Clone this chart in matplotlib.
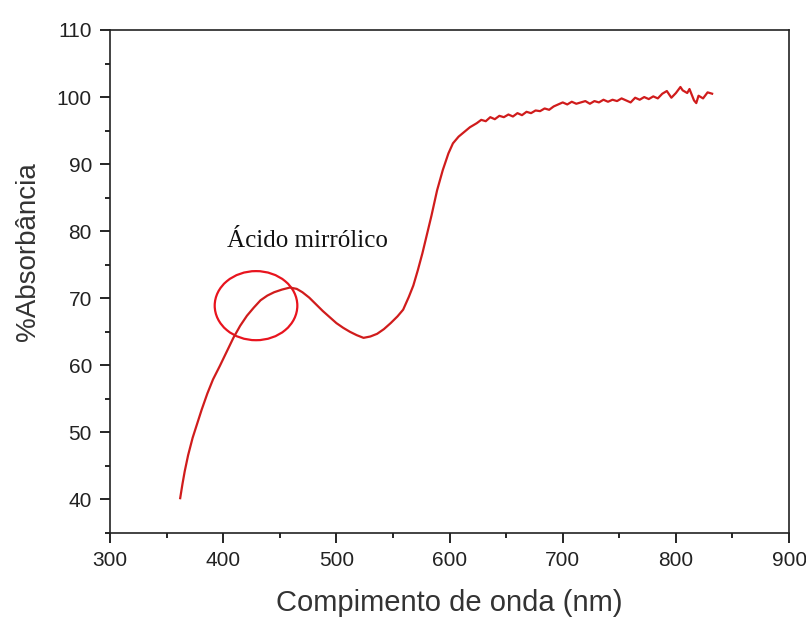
import matplotlib
matplotlib.use('Agg')
import matplotlib.pyplot as plt
from matplotlib.patches import Ellipse
from matplotlib.ticker import MultipleLocator

# ── data ──────────────────────────────────────────────────────
wavelength = [362, 364, 366, 369, 373, 377, 381, 386, 391, 397, 403, 409, 415,
              421, 427, 433, 439, 445, 452, 459, 465, 470, 476, 482, 488, 494,
              500, 506, 512, 518, 524, 530, 536, 542, 548, 554, 559, 564, 568,
              572, 576, 580, 584, 589, 594, 599, 603, 608, 613, 618, 624,
              628, 632, 636, 640, 644, 648, 652, 656, 660, 664, 668, 672, 676,
              680, 684, 688, 692, 696, 700, 704, 708, 712, 716, 720, 724, 728,
              732, 736, 740, 744, 748, 752, 756, 760, 764, 768, 772, 776, 780,
              784, 788, 792, 796, 800, 804, 806, 810, 812, 816, 818, 820, 824,
              828, 832]
absorb = [40.2, 42.3, 44.2, 46.6, 49.2, 51.3, 53.4, 55.8, 57.9, 59.9, 62.0,
          64.1, 65.9, 67.4, 68.6, 69.7, 70.4, 70.9, 71.3, 71.6, 71.4, 70.9,
          70.1, 69.1, 68.1, 67.2, 66.3, 65.6, 65.0, 64.5, 64.1, 64.3, 64.7,
          65.4, 66.3, 67.3, 68.3, 70.2, 71.9, 74.2, 76.7, 79.5, 82.3, 86.1,
          89.1, 91.6, 93.1, 94.1, 94.8, 95.5, 96.1,
          96.6, 96.4, 97.0, 96.7, 97.2, 97.0, 97.4, 97.1, 97.6, 97.3, 97.8,
          97.6, 98.0, 97.9, 98.3, 98.1, 98.6, 98.9, 99.2, 98.9, 99.3, 99.0,
          99.2, 99.4, 99.0, 99.4, 99.2, 99.6, 99.3, 99.6, 99.4, 99.8, 99.5,
          99.2, 99.9, 99.6, 100.0, 99.7, 100.1, 99.8, 100.5, 100.9, 99.9,
          100.6, 101.5, 101.0, 100.6, 101.2, 99.5, 99.1, 100.2, 99.8, 100.7,
          100.5]

label_text = "Ácido mirrólico"

fig = plt.figure(figsize=(8.06, 6.17), dpi=100)
ax = fig.add_axes([0.1365, 0.1361, 0.8425, 0.8153])

ax.plot(wavelength, absorb, color='#d01c1c', lw=1.6)

# circle marking the shoulder
ax.add_patch(Ellipse((429, 68.9), 73, 10.3, fill=False, ec='#e8141e', lw=1.6))
ax.text(474, 78.6, label_text, ha='center', va='center', fontsize=18,
        family='Liberation Serif', color='#111111')

ax.set_xlim(300, 900)
ax.set_ylim(35, 110)
ax.xaxis.set_major_locator(MultipleLocator(100))
ax.xaxis.set_minor_locator(MultipleLocator(50))
ax.yaxis.set_major_locator(MultipleLocator(10))
ax.yaxis.set_minor_locator(MultipleLocator(5))
ax.set_yticks(range(40, 111, 10))

ax.tick_params(which='major', direction='out', length=7, width=1.2,
               labelsize=15, pad=6)
ax.tick_params(which='minor', direction='out', length=3.5, width=1.2)
for lab in ax.get_xticklabels() + ax.get_yticklabels():
    lab.set_family('Liberation Sans')
    lab.set_color('#222222')
for sp in ax.spines.values():
    sp.set_linewidth(1.2)
    sp.set_color('#222222')

ax.set_xlabel("Compimento de onda (nm)", fontsize=21, family='Liberation Sans',
              color='#333333')
ax.set_ylabel("%Absorbância", fontsize=20, family='Liberation Sans',
              color='#333333')
ax.xaxis.set_label_coords(0.5, -0.139)
ax.yaxis.set_label_coords(-0.121, 0.559)
ax.xaxis.label.set_va('center')
ax.yaxis.label.set_va('center')

plt.savefig("out.png", dpi=100)
plt.close()
